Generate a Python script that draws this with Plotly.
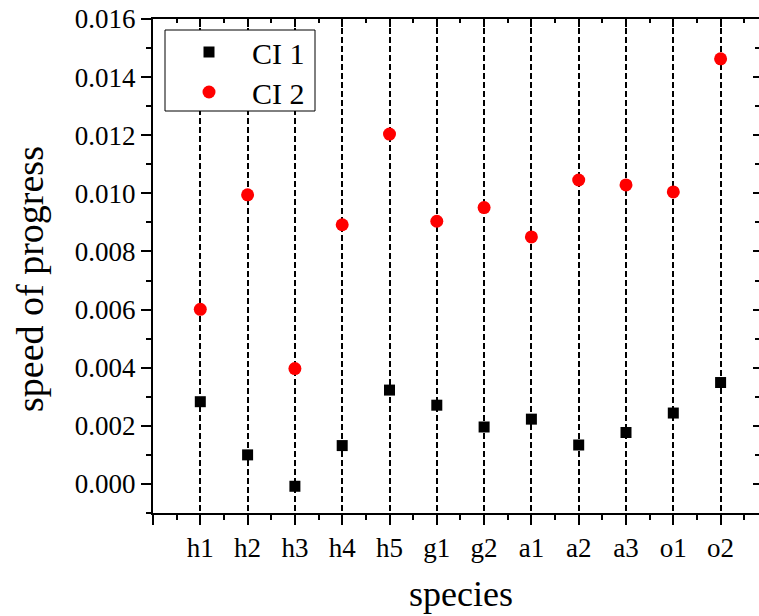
import plotly.graph_objects as go

species = ["h1", "h2", "h3", "h4", "h5", "g1", "g2", "a1", "a2", "a3", "o1", "o2"]
ci1 = [0.00283, 0.00100, -0.00008, 0.00132, 0.00323, 0.00271, 0.00196, 0.00223, 0.00134, 0.00177, 0.00244, 0.00349]
ci2 = [0.00601, 0.00995, 0.00397, 0.00892, 0.01204, 0.00904, 0.00951, 0.00850, 0.01046, 0.01029, 0.01005, 0.01463]
ci1_err = [0.00005, 0.00003, 0.00003, 0.00004, 0.00005, 0.00004, 0.00003, 0.00004, 0.00004, 0.00004, 0.00004, 0.00005]
ci2_err = [0.00016, 0.00006, 0.00006, 0.00010, 0.00010, 0.00006, 0.00006, 0.00006, 0.00006, 0.00006, 0.00006, 0.00006]
yticks = [0.000, 0.002, 0.004, 0.006, 0.008, 0.010, 0.012, 0.014, 0.016]
x_title = "species"
y_title = "speed of progress"

pos = list(range(1, len(species) + 1))
FONT = "Liberation Serif"

# plot-area geometry in pixels
L, T, R, B = 153, 19, 759, 513
PW, PH = R - L, B - T


def px_x(px):
    return (px - L) / PW


def px_y(py):
    return (B - py) / PH


fig = go.Figure()
fig.add_trace(go.Scatter(
    x=pos, y=ci1, mode="markers", name="CI 1", legend="legend",
    marker=dict(symbol="square", size=11, color="black"),
    error_y=dict(type="data", array=ci1_err, color="black", thickness=1, width=3),
))
fig.add_trace(go.Scatter(
    x=pos, y=ci2, mode="markers", name="CI 2", legend="legend2",
    marker=dict(symbol="circle", size=13, color="#ff0000"),
    error_y=dict(type="data", array=ci2_err, color="#ff0000", thickness=1, width=3),
))
fig.add_trace(go.Scatter(x=[None], y=[None], xaxis="x2", yaxis="y2",
                         showlegend=False, hoverinfo="skip"))

xr = [0, PW / 47.3]
yr = [-0.001, 0.016]

leg_common = dict(
    xanchor="left", yanchor="middle",
    bgcolor="rgba(0,0,0,0)", borderwidth=0,
    font=dict(family=FONT, size=30, color="black"),
    itemwidth=76,
)

fig.update_layout(
    width=759, height=616,
    margin=dict(l=L, r=759 - R, t=T, b=616 - B),
    paper_bgcolor="white", plot_bgcolor="white",
    font=dict(family=FONT, color="black"),
    showlegend=True,
    legend=dict(x=px_x(166), y=px_y(52), **leg_common),
    legend2=dict(x=px_x(166), y=px_y(92), **leg_common),
    shapes=[dict(type="rect", xref="paper", yref="paper", layer="above",
                 x0=px_x(165), x1=px_x(315), y0=px_y(111), y1=px_y(30),
                 line=dict(color="black", width=1), fillcolor="white")],
    xaxis=dict(
        range=xr, tickmode="array", tickvals=[0] + pos, ticktext=[""] + species,
        ticks="outside", ticklen=10, tickwidth=2, tickcolor="black",
        showline=True, linecolor="black", linewidth=2,
        showgrid=True, gridcolor="black", gridwidth=1.6, griddash="6px,3px",
        zeroline=False,
        tickfont=dict(family=FONT, size=27, color="black"),
        minor=dict(tickmode="linear", tick0=0.5, dtick=1, ticks="outside", ticklen=5,
                   tickwidth=2, tickcolor="black", showgrid=False),
    ),
    yaxis=dict(
        range=yr, tickmode="array", tickvals=yticks, tickformat=".3f",
        ticks="outside", ticklen=10, tickwidth=2, tickcolor="black",
        showline=True, linecolor="black", linewidth=2,
        showgrid=False, zeroline=False,
        tickfont=dict(family=FONT, size=27, color="black"),
        minor=dict(tickmode="linear", tick0=0, dtick=0.001, ticks="outside", ticklen=5,
                   tickwidth=2, tickcolor="black", showgrid=False),
    ),
    xaxis2=dict(
        overlaying="x", side="top", range=xr, tickmode="array", tickvals=[0] + pos,
        showticklabels=False, ticks="inside", ticklen=8, tickwidth=2, tickcolor="black",
        showline=True, linecolor="black", linewidth=2, showgrid=False, zeroline=False,
        minor=dict(tickmode="linear", tick0=0.5, dtick=1, ticks="inside", ticklen=4,
                   tickwidth=2, tickcolor="black", showgrid=False),
    ),
    yaxis2=dict(
        overlaying="y", side="right", range=yr, tickmode="array", tickvals=yticks,
        showticklabels=False, ticks="inside", ticklen=6, tickwidth=2, tickcolor="black",
        showline=False, showgrid=False, zeroline=False,
        minor=dict(tickmode="linear", tick0=0, dtick=0.001, ticks="inside", ticklen=4,
                   tickwidth=2, tickcolor="black", showgrid=False),
    ),
    annotations=[
        dict(text=x_title, xref="paper", yref="paper",
             x=px_x(460.5), y=px_y(594),
             xanchor="center", yanchor="middle", showarrow=False,
             font=dict(family=FONT, size=36, color="black")),
        dict(text=y_title, xref="paper", yref="paper", textangle=-90,
             x=px_x(30), y=px_y(279),
             xanchor="center", yanchor="middle", showarrow=False,
             font=dict(family=FONT, size=38, color="black")),
    ],
)

fig.write_html("out.html")
